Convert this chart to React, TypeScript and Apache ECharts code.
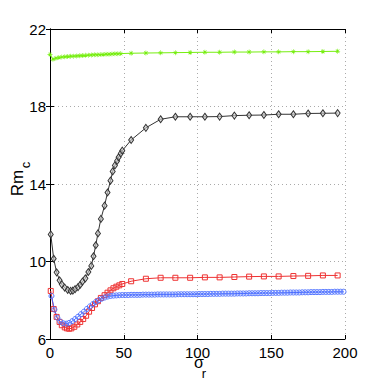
import React, { useEffect, useRef } from "react";
import * as echarts from "echarts";

// Green series (asterisks)
const greenX = [0, 2, 4, 6, 8, 10, 12, 14, 16, 18, 20, 22, 24, 26, 28, 30, 32, 34, 36, 38, 40, 42, 44, 46, 48,
  55, 65, 75, 85, 95, 105, 115, 125, 135, 145, 155, 165, 175, 185, 195];
const greenY = [20.69, 20.44, 20.49, 20.53, 20.55, 20.57, 20.58, 20.59, 20.6, 20.61, 20.62, 20.63, 20.64, 20.65, 20.66,
  20.67, 20.67, 20.68, 20.69, 20.7, 20.7, 20.71, 20.72, 20.72, 20.73,
  20.75, 20.76, 20.77, 20.78, 20.79, 20.8, 20.8, 20.81, 20.81, 20.82, 20.82, 20.83, 20.83, 20.84, 20.85];

// Black series (diamonds)
const blackX = [0.5, 2.5, 4.5, 6.5, 8, 10, 12, 14, 15.5, 17, 19, 20.5, 22, 24, 26, 28, 29.5, 31, 32.5, 34.5, 37, 39,
  41, 42.5, 44, 45.5, 46.5, 48, 49, 55, 65, 75, 85, 95, 105, 115, 125, 135, 145, 155, 165, 175, 185, 195];
const blackY = [11.4, 10.14, 9.44, 9.03, 8.82, 8.65, 8.53, 8.48, 8.5, 8.57, 8.68, 8.8, 8.96, 9.13, 9.46, 9.77, 10.27,
  10.84, 11.45, 12.2, 12.88, 13.56, 14.17, 14.65, 14.96, 15.19, 15.38, 15.58, 15.72, 16.27, 16.9, 17.34, 17.47,
  17.47, 17.47, 17.48, 17.53, 17.55, 17.56, 17.6, 17.6, 17.64, 17.65, 17.66];

// Red series (squares)
const redX = [0.5, 2.5, 4.5, 6.5, 8, 10, 11.5, 13, 14.5, 16.5, 18.5, 20.5, 22.5, 24.5, 26.5, 28.5, 30.5, 32.5, 34.5,
  37, 39, 41, 43, 45, 47, 49, 55, 65, 75, 85, 95, 105, 115, 125, 135, 145, 155, 165, 175, 185, 195];
const redY = [8.48, 7.55, 7.14, 6.88, 6.71, 6.6, 6.55, 6.53, 6.55, 6.63, 6.75, 6.88, 7.03, 7.2, 7.41, 7.6, 7.79, 7.95,
  8.12, 8.26, 8.39, 8.51, 8.62, 8.7, 8.77, 8.84, 8.98, 9.11, 9.16, 9.16, 9.16, 9.18, 9.18, 9.2, 9.22, 9.23, 9.23,
  9.25, 9.26, 9.28, 9.28];

// Blue series (circles), sampled every 2 units from 1 to 199
const blueX = Array.from({ length: 100 }, (_, i) => 1 + 2 * i);
const blueY = [8.22, 7.52, 7.1, 6.9, 6.81, 6.79, 6.83, 6.92, 7.03, 7.15, 7.28, 7.41, 7.55, 7.68, 7.8, 7.91, 8.0,
  8.08, 8.14, 8.19, 8.22, 8.24, 8.25, 8.26, 8.27, 8.27, 8.27, 8.28,
  8.28, 8.28, 8.28, 8.29, 8.29, 8.29, 8.29, 8.29,
  8.3, 8.3, 8.3, 8.3, 8.3, 8.3, 8.3,
  8.31, 8.31, 8.31, 8.31, 8.31, 8.31, 8.31,
  8.32, 8.32, 8.32, 8.32,
  8.33, 8.33, 8.33, 8.33,
  8.34, 8.34, 8.34, 8.34, 8.34,
  8.35, 8.35, 8.35, 8.35,
  8.36, 8.36, 8.36, 8.36,
  8.37, 8.37, 8.37, 8.37,
  8.38, 8.38, 8.38,
  8.39, 8.39, 8.39,
  8.4, 8.4, 8.4, 8.4,
  8.41, 8.41, 8.41,
  8.42, 8.42, 8.42, 8.42,
  8.43, 8.43, 8.43, 8.43,
  8.44, 8.44, 8.44, 8.44];

const xTicks = { min: 0, max: 200, interval: 50 };
const yTicks = { min: 6, max: 22, interval: 4 };

const pair = (xs: number[], ys: number[]) => xs.map((x, i) => [x, ys[i]]);

const ASTERISK =
  "path://M-0.6,-5L0.6,-5L0.6,5L-0.6,5Z M-5,-0.6L5,-0.6L5,0.6L-5,0.6Z M-3.9,-3.1L-3.1,-3.9L3.9,3.1L3.1,3.9Z M3.1,-3.9L3.9,-3.1L-3.1,3.9L-3.9,3.1Z";

const FONT = "'Liberation Sans', Arial, sans-serif";

export default function App() {
  const ref = useRef<HTMLDivElement>(null);
  useEffect(() => {
    if (!ref.current) return;
    const chart = echarts.init(ref.current, null, { renderer: "svg" });
    const axisCommon = {
      axisLine: { show: true, lineStyle: { color: "#000", width: 1 } },
      axisTick: { show: true, inside: true, length: 4, lineStyle: { color: "#000" } },
    };
    chart.setOption({
      animation: false,
      backgroundColor: "#fff",
      grid: { left: 50, right: 37, top: 29, bottom: 43, containLabel: false },
      xAxis: [
        {
          type: "value", position: "bottom", ...xTicks, ...axisCommon,
          axisLabel: { color: "#000", fontSize: 15, fontFamily: FONT, margin: 6 },
          splitLine: { show: true, lineStyle: { color: "#aaa", type: [1, 3], width: 1 } },
        },
        {
          type: "value", position: "top", ...xTicks, ...axisCommon,
          axisLabel: { show: false }, splitLine: { show: false },
        },
      ],
      yAxis: [
        {
          type: "value", position: "left", ...yTicks, ...axisCommon,
          axisLabel: { color: "#000", fontSize: 15, fontFamily: FONT, margin: 4 },
          splitLine: { show: true, lineStyle: { color: "#aaa", type: [1, 3], width: 1 } },
        },
        {
          type: "value", position: "right", ...yTicks, ...axisCommon,
          axisLabel: { show: false }, splitLine: { show: false },
        },
      ],
      series: [
        {
          type: "line", data: pair(greenX, greenY), symbol: ASTERISK, symbolSize: 5,
          lineStyle: { color: "#77ee11", width: 1 }, itemStyle: { color: "#77ee11" },
        },
        {
          type: "line", data: pair(blackX, blackY), symbol: "diamond", symbolSize: [5, 7],
          lineStyle: { color: "#333", width: 1 },
          itemStyle: { color: "rgba(200,200,200,0.6)", borderColor: "#333", borderWidth: 1 },
        },
        {
          type: "line", data: pair(redX, redY), symbol: "rect", symbolSize: 5,
          lineStyle: { color: "#ee3333", width: 1 },
          itemStyle: { color: "rgba(255,255,255,0)", borderColor: "#ee3333", borderWidth: 1 },
        },
        {
          type: "line", data: pair(blueX, blueY), symbol: "circle", symbolSize: 5,
          lineStyle: { color: "#4466ff", width: 1 },
          itemStyle: { color: "rgba(255,255,255,0)", borderColor: "#5577ff", borderWidth: 1 },
        },
      ],
      graphic: [
        {
          type: "text", x: 17, y: 183, rotation: Math.PI / 2,
          style: { text: "Rm", fontSize: 17, fontFamily: FONT, fill: "#000", align: "center", verticalAlign: "middle" },
        },
        {
          type: "text", x: 25, y: 165, rotation: Math.PI / 2,
          style: { text: "c", fontSize: 13, fontFamily: FONT, fill: "#000", align: "center", verticalAlign: "middle" },
        },
        {
          type: "text", x: 199, y: 362,
          style: { text: "σ", fontSize: 16, fontFamily: FONT, fill: "#000", align: "center", verticalAlign: "middle" },
        },
        {
          type: "text", x: 204, y: 373,
          style: { text: "r", fontSize: 13, fontFamily: FONT, fill: "#000", align: "center", verticalAlign: "middle" },
        },
      ],
    });
    return () => chart.dispose();
  }, []);
  return <div ref={ref} style={{ position: "absolute", left: 0, top: 0, width: 382, height: 382 }} />;
}
